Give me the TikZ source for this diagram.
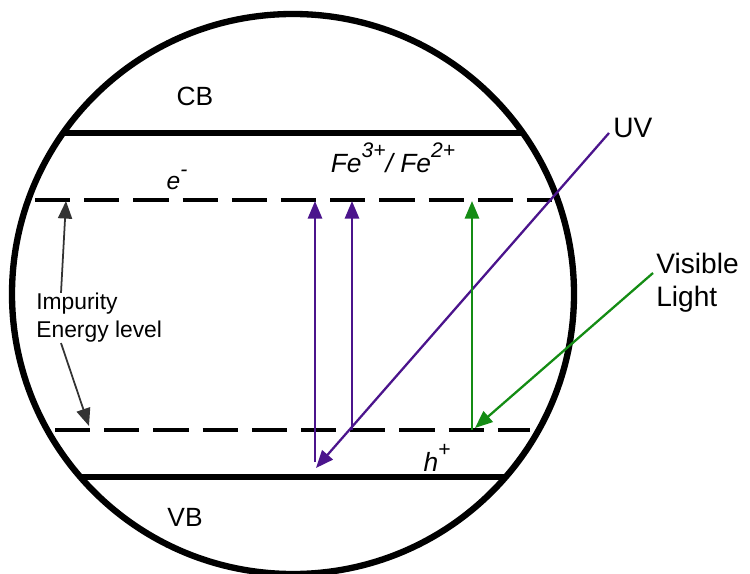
\documentclass[tikz,border=0pt]{standalone}
\usepackage{fontspec}
\setmainfont{Liberation Sans}
\usetikzlibrary{arrows.meta, positioning}
\definecolor{uvlight}{RGB}{75,20,140}
\definecolor{vislight}{RGB}{20,140,20}
\newcommand{\charge}[1]{\raisebox{0.55em}{\fontsize{12}{14}\selectfont #1}}

\begin{document}
\begin{tikzpicture}[
    x={(0.02cm,0cm)},
    y={(0cm,-0.02cm)},
    band/.style={line width=3.3pt},
    level/.style={line width=2pt, dash pattern=on 20pt off 8pt},
    tip/.style={-{Triangle[length=10pt,width=8pt]}},
    lbl/.style={inner sep=0pt, font=\fontsize{15}{17}\selectfont}
]
\useasboundingbox (0,0) rectangle (750,574);

% Contorno
\draw[line width=3.6pt] (293,294) ellipse [x radius=281, y radius=280];

% Bandas
\coordinate (cbL) at (64,133);   \coordinate (cbR) at (522,133);
\coordinate (vbL) at (82,477);   \coordinate (vbR) at (505,477);
\draw[band] (cbL) -- (cbR);
\draw[band] (vbL) -- (vbR);

% Niveles de impureza
\coordinate (upL) at (35,200);   \coordinate (upR) at (552,200);
\coordinate (loL) at (55,430);   \coordinate (loR) at (530,430);
\draw[level] (upL) -- (upR);
\draw[level] (loL) -- (loR);

% Etiquetas
\node[lbl] (cb) at (195,96) {CB};
\node[lbl] (vb) at (185,517) {VB};
\node[lbl, font=\fontsize{14}{16}\selectfont\itshape] (e) at (177,180) {e\charge{-}};
\node[lbl, font=\fontsize{15}{17}\selectfont\itshape] (fe) at (393,158) {Fe\charge{3+}/ Fe\charge{2+}};
\node[lbl, font=\fontsize{15}{17}\selectfont\itshape] (h) at (437,458) {h\charge{+}};
\node[lbl, font=\fontsize{16}{18}\selectfont, anchor=west] (uv) at (613,128) {UV};
\node[lbl, font=\fontsize{16}{19}\selectfont, align=left, anchor=west] (vis) at (656,283) {Visible\\Light};
\node[lbl, font=\fontsize{13}{16}\selectfont, align=left, anchor=west] (imp) at (36,318) {Impurity\\Energy level};

% Separacion del nivel
\coordinate (impT) at (66,201);
\coordinate (impB) at (89,426);
\draw[tip, line width=1pt, black!80] (imp.north west) ++(25,0) -- (impT);
\draw[tip, line width=1pt, black!80] (imp.south west) ++(25,0) -- (impB);

% Luz UV
\coordinate (uvA) at (609,133);
\coordinate (uvB) at (316,468);
\draw[tip, uvlight, line width=1.3pt] (uvA) -- (uvB);

% Luz visible
\coordinate (visA) at (653,273);
\coordinate (visB) at (475,428);
\draw[tip, vislight, line width=1.3pt] (visA) -- (visB);

% Transiciones
\foreach \xa/\ya/\col in {315/462/uvlight, 352/430/uvlight, 472/430/vislight} {
    \draw[tip, \col, line width=1.5pt] (\xa,\ya) -- (\xa,201);
}

\end{tikzpicture}
\end{document}
